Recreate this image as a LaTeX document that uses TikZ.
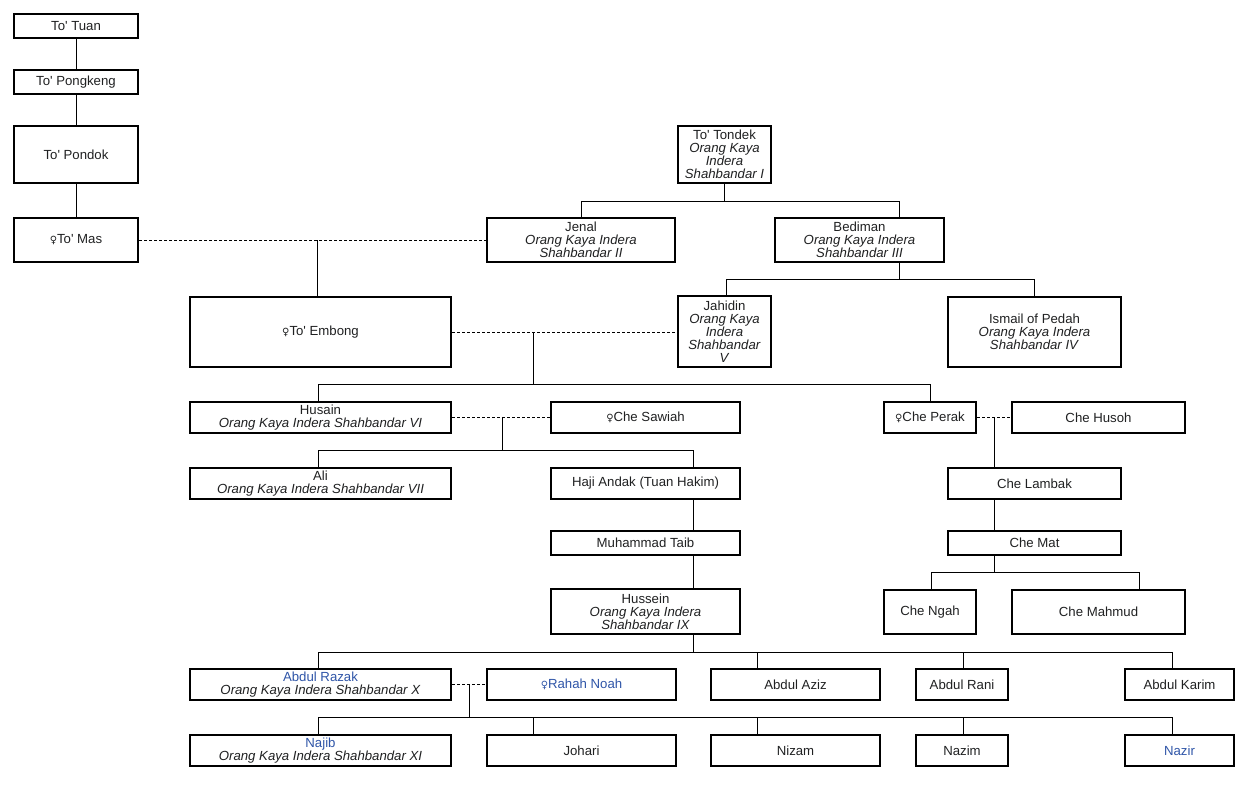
\documentclass[tikz,border=0pt]{standalone}
\usepackage{fontspec}
\setmainfont{Liberation Sans}[Ligatures=TeXOff]
\newfontfamily\femf{DejaVu Sans}
\definecolor{txt}{HTML}{202122}
\definecolor{lnk}{HTML}{2F55A8}
\tikzset{
  pbox/.style={draw=black, line width=2pt, inner sep=0pt, align=center, text=txt,
    font=\fontsize{13.2}{13}\selectfont},
  blue/.style={text=lnk},
  conn/.style={line width=1pt, draw=black},
  marr/.style={line width=1pt, draw=black, dash pattern=on 3pt off 2pt},
}
\newcommand\fem{{\femf\fontsize{10}{10}\selectfont ♀}}
\newcommand\famb[6][]{%
  \pgfmathsetmacro\bw{#5-#3-2}\pgfmathsetmacro\bh{#6-#4-2}%
  \pgfmathsetmacro\bcx{(#3+#5)/2}\pgfmathsetmacro\bcy{(#4+#6)/2}%
  \node[pbox,#1,minimum width=\bw pt,minimum height=\bh pt] (#2) at (\bcx,\bcy)}
\newcommand\ttl[1]{\textit{#1}}
\begin{document}
\begin{tikzpicture}[x=1pt,y=-1pt]
\useasboundingbox (0,0) rectangle (1250,797);
\fill[white] (0,0) rectangle (1250,797);
% boxes
\famb{tuan}{13}{13}{139}{39}{To' Tuan};
\famb{pongkeng}{13}{69}{139}{95}{To' Pongkeng};
\famb{pondok}{13}{125}{139}{184}{To' Pondok};
\famb{mas}{13}{217}{139}{263}{\fem To' Mas};
\famb{tondek}{677}{125}{772}{184}{To' Tondek\\\ttl{Orang Kaya}\\\ttl{Indera}\\\ttl{Shahbandar I}};
\famb{jenal}{486}{217}{676}{263}{Jenal\\\ttl{Orang Kaya Indera}\\\ttl{Shahbandar II}};
\famb{bediman}{774}{217}{945}{263}{Bediman\\\ttl{Orang Kaya Indera}\\\ttl{Shahbandar III}};
\famb{embong}{189}{296}{452}{368}{\fem To' Embong};
\famb{jahidin}{677}{295}{772}{368}{Jahidin\\\ttl{Orang Kaya}\\\ttl{Indera}\\\ttl{Shahbandar}\\\ttl{V}};
\famb{ismail}{947}{296}{1122}{368}{Ismail of Pedah\\\ttl{Orang Kaya Indera}\\\ttl{Shahbandar IV}};
\famb{husain}{189}{401}{452}{434}{Husain\\\ttl{Orang Kaya Indera Shahbandar VI}};
\famb{sawiah}{550}{401}{741}{434}{\fem Che Sawiah};
\famb{perak}{883}{401}{977}{434}{\fem Che Perak};
\famb{husoh}{1011}{401}{1186}{434}{Che Husoh};
\famb{ali}{189}{467}{452}{500}{Ali\\\ttl{Orang Kaya Indera Shahbandar VII}};
\famb{andak}{550}{467}{741}{500}{Haji Andak (Tuan Hakim)};
\famb{lambak}{947}{467}{1122}{500}{Che Lambak};
\famb{taib}{550}{530}{741}{556}{Muhammad Taib};
\famb{mat}{947}{530}{1122}{556}{Che Mat};
\famb{hussein}{550}{588}{741}{635}{Hussein\\\ttl{Orang Kaya Indera}\\\ttl{Shahbandar IX}};
\famb{ngah}{883}{589}{977}{635}{Che Ngah};
\famb{mahmud}{1011}{589}{1186}{635}{Che Mahmud};
\famb{razak}{189}{668}{452}{701}{\textcolor{lnk}{Abdul Razak}\\\ttl{Orang Kaya Indera Shahbandar X}};
\famb[blue]{rahah}{486}{668}{677}{701}{\fem Rahah Noah};
\famb{aziz}{710}{668}{881}{701}{Abdul Aziz};
\famb{rani}{915}{668}{1009}{701}{Abdul Rani};
\famb{karim}{1124}{668}{1235}{701}{Abdul Karim};
\famb{najib}{189}{734}{452}{767}{\textcolor{lnk}{Najib}\\\ttl{Orang Kaya Indera Shahbandar XI}};
\famb{johari}{486}{734}{677}{767}{Johari};
\famb{nizam}{710}{734}{881}{767}{Nizam};
\famb{nazim}{915}{734}{1009}{767}{Nazim};
\famb[blue]{nazir}{1124}{734}{1235}{767}{Nazir};
% junction coordinates
\coordinate (jm) at (317,240);
\coordinate (jt) at (724.5,201);
\coordinate (jb) at (899,279);
\coordinate (je) at (533,332);
\coordinate (je2) at (533,384);
\coordinate (jh) at (502,417);
\coordinate (jh2) at (502,450);
\coordinate (jp) at (994,417);
\coordinate (jm2) at (994,572);
\coordinate (jr) at (469,684);
\coordinate (jr2) at (469,717);
\coordinate (jhu) at (693,652);
% left column
\draw[conn] (tuan) -- (pongkeng);
\draw[conn] (pongkeng) -- (pondok);
\draw[conn] (pondok) -- (mas);
% marriages
\draw[marr] (mas.east) -- (jenal.west);
\draw[marr] (embong.east |- je) -- (jahidin.west |- je);
\draw[marr] (husain.east |- jh) -- (sawiah.west |- jh);
\draw[marr] (perak.east |- jp) -- (husoh.west |- jp);
\draw[marr] (razak.east |- jr) -- (rahah.west |- jr);
% descent
\draw[conn] (jm) -- (jm |- embong.north);
\draw[conn] (tondek.south) -- (jt);
\draw[conn] (jenal.north) -- (jenal.north |- jt) -- (899,201) -- (jb |- bediman.north);
\draw[conn] (jb |- bediman.south) -- (jb);
\draw[conn] (726,0 |- jahidin.north) -- (726,279) -- (1034,279) -- (1034,0 |- ismail.north);
\draw[conn] (je) -- (je2);
\draw[conn] (318,0 |- husain.north) -- (318,384) -- (930,384) -- (930,0 |- perak.north);
\draw[conn] (jh) -- (jh2);
\draw[conn] (318,0 |- ali.north) -- (318,450) -- (693,450) -- (693,0 |- andak.north);
\draw[conn] (andak.south -| 693,0) -- (taib.north -| 693,0);
\draw[conn] (taib.south -| 693,0) -- (hussein.north -| 693,0);
\draw[conn] (hussein.south -| 693,0) -- (jhu);
\draw[conn] (jp) -- (jp |- lambak.north);
\draw[conn] (jp |- lambak.south) -- (jp |- mat.north);
\draw[conn] (jp |- mat.south) -- (jm2);
\draw[conn] (931,0 |- ngah.north) -- (931,572) -- (1139,572) -- (1139,0 |- mahmud.north);
\draw[conn] (318,652) -- (1172,652);
\foreach \x/\n in {318/razak,757/aziz,963/rani,1172/karim}
  \draw[conn] (\x,652) -- (\x,0 |- \n.north);
\draw[conn] (jr) -- (jr2);
\draw[conn] (318,717) -- (1172,717);
\foreach \x/\n in {318/najib,533/johari,757/nizam,963/nazim,1172/nazir}
  \draw[conn] (\x,717) -- (\x,0 |- \n.north);
\end{tikzpicture}
\end{document}
